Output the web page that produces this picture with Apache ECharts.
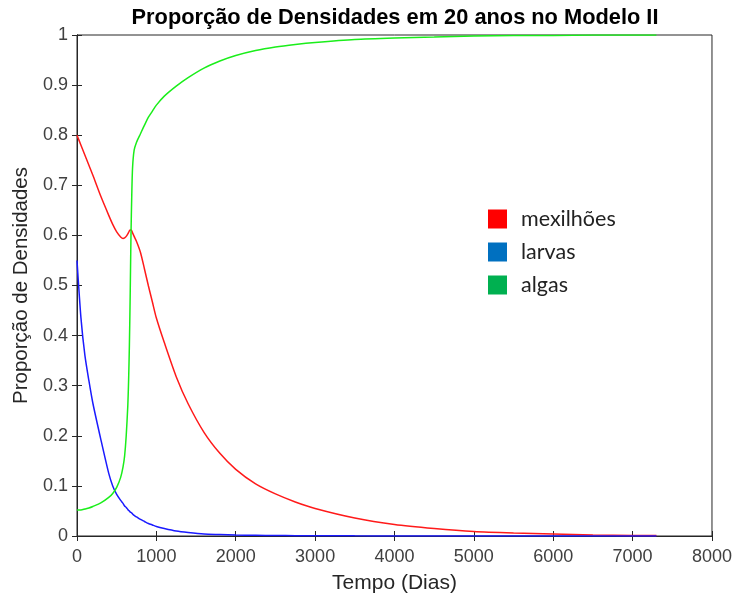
<!DOCTYPE html>
<html>
<head>
<meta charset="utf-8">
<script src="https://cdn.jsdelivr.net/npm/echarts@6/dist/echarts.min.js"></script>
<style>
html,body{margin:0;padding:0;background:#fff;}
#chart{width:735px;height:603px;}
</style>
</head>
<body>
<div id="chart"></div>
<script>
// Time (days)
const tempo = [0, 50, 100, 150, 200, 300, 400, 450, 500, 550, 580, 600, 620, 640, 650, 660, 670, 680, 690, 700, 720, 750, 800, 850, 900, 950, 1000, 1100, 1250, 1400, 1600, 1800, 2000, 2250, 2500, 2750, 3000, 3500, 4000, 4500, 5000, 5500, 6000, 6500, 7000, 7300];
// mexilhões
const mexilhoes = [0.800, 0.780, 0.760, 0.740, 0.720, 0.678, 0.640, 0.622, 0.607, 0.597, 0.594, 0.595, 0.598, 0.603, 0.606, 0.609, 0.611, 0.611, 0.609, 0.605, 0.598, 0.588, 0.566, 0.533, 0.499, 0.467, 0.435, 0.386, 0.318, 0.264, 0.207, 0.165, 0.133, 0.104, 0.084, 0.068, 0.055, 0.036, 0.023, 0.015, 0.009, 0.006, 0.004, 0.002, 0.001, 0.001];
// larvas
const larvas = [0.550, 0.435, 0.360, 0.310, 0.265, 0.193, 0.125, 0.100, 0.083, 0.071, 0.065, 0.060, 0.057, 0.053, 0.051, 0.050, 0.048, 0.047, 0.046, 0.044, 0.041, 0.038, 0.033, 0.029, 0.025, 0.022, 0.019, 0.015, 0.010, 0.007, 0.004, 0.003, 0.002, 0.0015, 0.001, 0.0007, 0.0005, 0.0003, 0.0002, 0.0001, 0.0001, 0, 0, 0, 0, 0];
// algas
const algas = [0.052, 0.052, 0.054, 0.056, 0.059, 0.066, 0.077, 0.085, 0.097, 0.117, 0.138, 0.160, 0.200, 0.260, 0.310, 0.380, 0.480, 0.600, 0.680, 0.735, 0.770, 0.786, 0.803, 0.820, 0.836, 0.848, 0.860, 0.878, 0.898, 0.915, 0.934, 0.948, 0.959, 0.969, 0.976, 0.981, 0.985, 0.991, 0.994, 0.996, 0.998, 0.999, 0.999, 1.000, 1.000, 1.000];

const seriesNames = ['mexilhões', 'larvas', 'algas'];
const lineColors = ['#ff1a1a', '#1a1aff', '#1aee1a'];
const legendColors = ['#ff0000', '#0070c0', '#00b050'];
const title = 'Proporção de Densidades em 20 anos no Modelo II';
const xName = 'Tempo (Dias)';
const yName = 'Proporção de Densidades';

const valuesList = [mexilhoes, larvas, algas];
const chart = echarts.init(document.getElementById('chart'));
const axisCol = '#262626';
const fontF = '"Liberation Sans", Arial, sans-serif';

const option = {
  animation: false,
  backgroundColor: '#fff',
  title: {
    text: title, left: 390, top: 2, textAlign: 'center',
    textStyle: { fontFamily: fontF, fontWeight: 'bold', fontSize: 21.8, color: '#000' }
  },
  legend: {
    orient: 'vertical', left: 488, top: 208, padding: 0,
    itemWidth: 19, itemHeight: 19, itemGap: 11, icon: 'rect',
    textStyle: { fontFamily: 'Lato, "Open Sans", sans-serif', fontSize: 21.5, lineHeight: 19, color: '#222', padding: [0, 0, 0, 9] },
    data: seriesNames.map((n, i) => ({ name: n, itemStyle: { color: legendColors[i] } }))
  },
  grid: { left: 77, top: 35, width: 635, height: 501, show: true, borderColor: axisCol, borderWidth: 1, backgroundColor: 'transparent' },
  xAxis: [{
    type: 'value', min: 0, max: 8000, interval: 1000,
    name: xName, nameLocation: 'middle', nameGap: 37,
    nameTextStyle: { fontFamily: fontF, fontSize: 21, color: axisCol },
    axisLine: { show: true, lineStyle: { color: axisCol } },
    axisTick: { show: true, inside: true, length: 5, lineStyle: { color: axisCol } },
    axisLabel: { fontFamily: fontF, fontSize: 18, color: '#404040', margin: 12, formatter: v => String(v) },
    splitLine: { show: false }
  }, {
    type: 'value', min: 0, max: 8000, interval: 1000, position: 'top',
    axisLine: { show: true, lineStyle: { color: axisCol } },
    axisTick: { show: true, inside: true, length: 5, lineStyle: { color: axisCol } },
    axisLabel: { show: false }, splitLine: { show: false }
  }],
  yAxis: [{
    type: 'value', min: 0, max: 1, interval: 0.1,
    name: yName, nameLocation: 'middle', nameGap: 40, nameRotate: 90,
    nameTextStyle: { fontFamily: fontF, fontSize: 20.5, color: axisCol },
    axisLine: { show: true, lineStyle: { color: axisCol } },
    axisTick: { show: true, inside: true, length: 5, lineStyle: { color: axisCol } },
    axisLabel: { fontFamily: fontF, fontSize: 18, color: '#404040', margin: 9 },
    splitLine: { show: false }
  }, {
    type: 'value', min: 0, max: 1, interval: 0.1, position: 'right',
    axisLine: { show: true, lineStyle: { color: axisCol } },
    axisTick: { show: true, inside: true, length: 5, lineStyle: { color: axisCol } },
    axisLabel: { show: false }, splitLine: { show: false }
  }],
  series: seriesNames.map((n, i) => ({
    name: n, type: 'line', showSymbol: false, smooth: 0.25,
    lineStyle: { color: lineColors[i], width: 1.5 },
    itemStyle: { color: legendColors[i] },
    data: tempo.map((t, k) => [t, valuesList[i][k]])
  }))
};
chart.setOption(option);
</script>
</body>
</html>
